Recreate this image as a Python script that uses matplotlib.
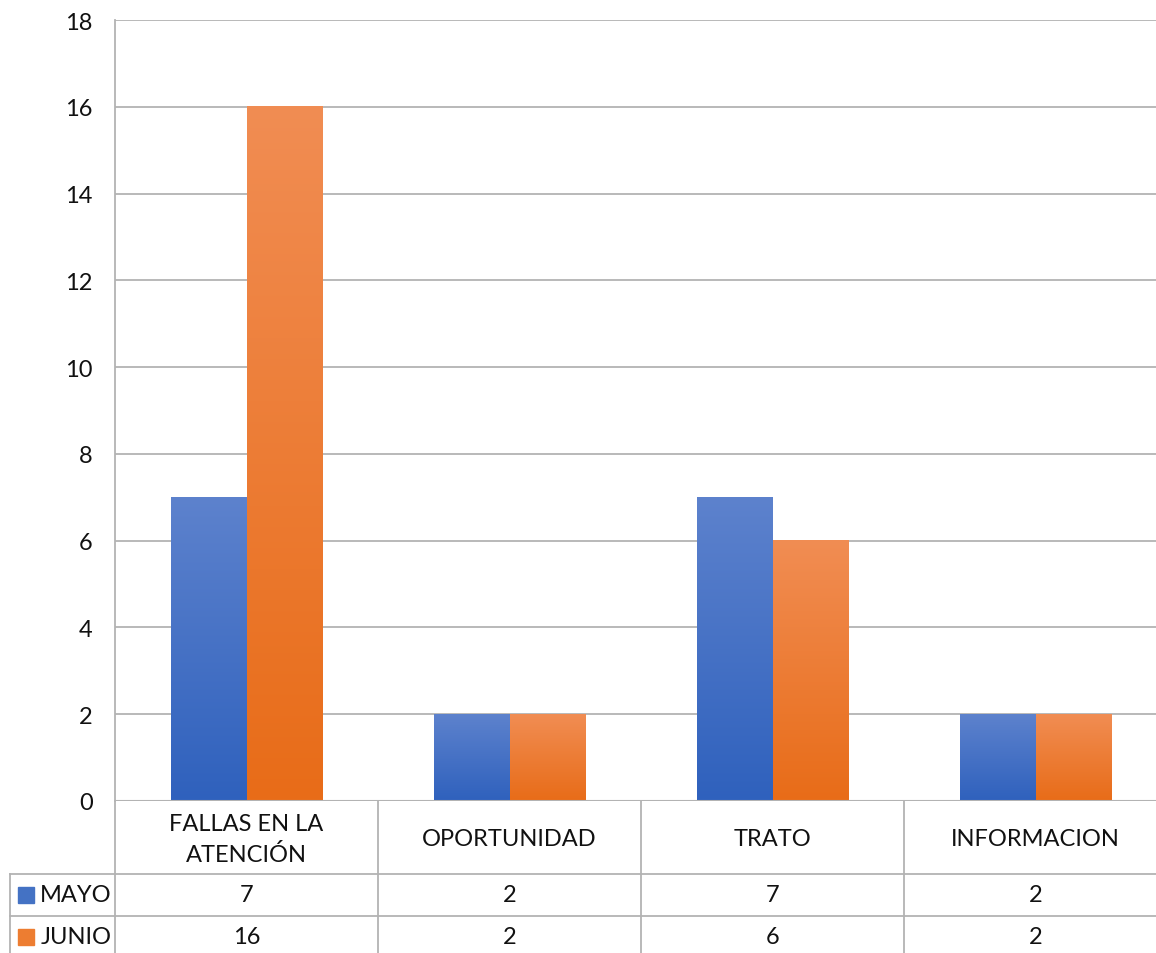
import matplotlib
matplotlib.use("Agg")
import matplotlib.pyplot as plt
import numpy as np
from matplotlib.colors import LinearSegmentedColormap

categories = ["FALLAS EN LA\nATENCIÓN", "OPORTUNIDAD", "TRATO", "INFORMACION"]
series_names = ["MAYO", "JUNIO"]
mayo = [7, 2, 7, 2]
junio = [16, 2, 6, 2]
yticks = [0, 2, 4, 6, 8, 10, 12, 14, 16, 18]

plt.rcParams['font.family'] = ['Lato', 'DejaVu Sans']
FS = 17
GRID = '#b3b3b3'

W, H = 1156, 954
fig = plt.figure(figsize=(W / 100, H / 100), dpi=100)

# pixel layout
ax_l, ax_r, ax_t, ax_b = 115, 1167, 21, 802
ax = fig.add_axes([ax_l / W, (H - ax_b) / H, (ax_r - ax_l) / W, (ax_b - ax_t) / H])

n = len(categories)
x = np.arange(n)
bw = 75.5 / 263.0

blue_cmap = LinearSegmentedColormap.from_list('b', ['#2f61bd', '#5d82cd'])
orange_cmap = LinearSegmentedColormap.from_list('o', ['#e86c18', '#f18d53'])

bars_m = ax.bar(x - bw / 2, mayo, bw, color='none', linewidth=0, zorder=3)
bars_j = ax.bar(x + bw / 2, junio, bw, color='none', linewidth=0, zorder=3)
grad = np.linspace(0, 1, 256).reshape(-1, 1)
for bars, cmap in ((bars_m, blue_cmap), (bars_j, orange_cmap)):
    for r in bars:
        x0, w, h = r.get_x(), r.get_width(), r.get_height()
        ax.imshow(grad, extent=(x0, x0 + w, 0, h), origin='lower', cmap=cmap,
                  aspect='auto', zorder=3, interpolation='bicubic')

ax.set_xlim(-0.5, n - 0.5)
ax.set_ylim(0, 18)
ax.set_yticks(yticks)
ax.set_yticklabels([str(t) for t in yticks], fontsize=FS, color='#111111')
ax.tick_params(axis='y', length=0, pad=16)
ax.set_xticks([])
ax.grid(axis='y', color=GRID, linewidth=1.3, zorder=1)
for s in ['top', 'right', 'bottom']:
    ax.spines[s].set_visible(False)
ax.spines['left'].set_color(GRID)
ax.spines['left'].set_linewidth(1.3)
ax.axhline(0, color=GRID, linewidth=1.5, zorder=4)

# data table below
tab_left = 10
tab = fig.add_axes([tab_left / W, 0, (ax_r - tab_left) / W, (H - ax_b) / H])
x_left = -0.5 - (ax_l - tab_left) / 263.0
tab.set_xlim(x_left, n - 0.5)
tab.set_ylim(H - ax_b, 0)
tab.axis('off')

header_h = 73
row_h = 42
bottom = H - ax_b
lw = 1.3
# vertical lines
for b in np.arange(n + 1) - 0.5:
    tab.plot([b, b], [0, bottom], color=GRID, lw=lw, clip_on=False)
tab.plot([x_left, x_left], [header_h, bottom], color=GRID, lw=lw, clip_on=False)
# horizontal lines
for yy in (header_h, header_h + row_h):
    tab.plot([x_left, n - 0.5], [yy, yy], color=GRID, lw=lw, clip_on=False)

for i, c in enumerate(categories):
    tab.text(i, header_h / 2 + 1.5, c, ha='center', va='center', fontsize=FS,
             color='#111111', linespacing=1.5)

colors = ['#4472c4', '#ed7d31']
for j, (name, vals) in enumerate(zip(series_names, [mayo, junio])):
    yc = header_h + row_h * j + row_h / 2
    tab.plot([x_left + 0.06], [yc], marker='s', markersize=11, color=colors[j],
             clip_on=False)
    tab.text(x_left + 0.115, yc, name, ha='left', va='center', fontsize=FS,
             color='#111111')
    for i, v in enumerate(vals):
        tab.text(i, yc, str(v), ha='center', va='center', fontsize=FS,
                 color='#111111')

fig.savefig('out.png', dpi=100)
